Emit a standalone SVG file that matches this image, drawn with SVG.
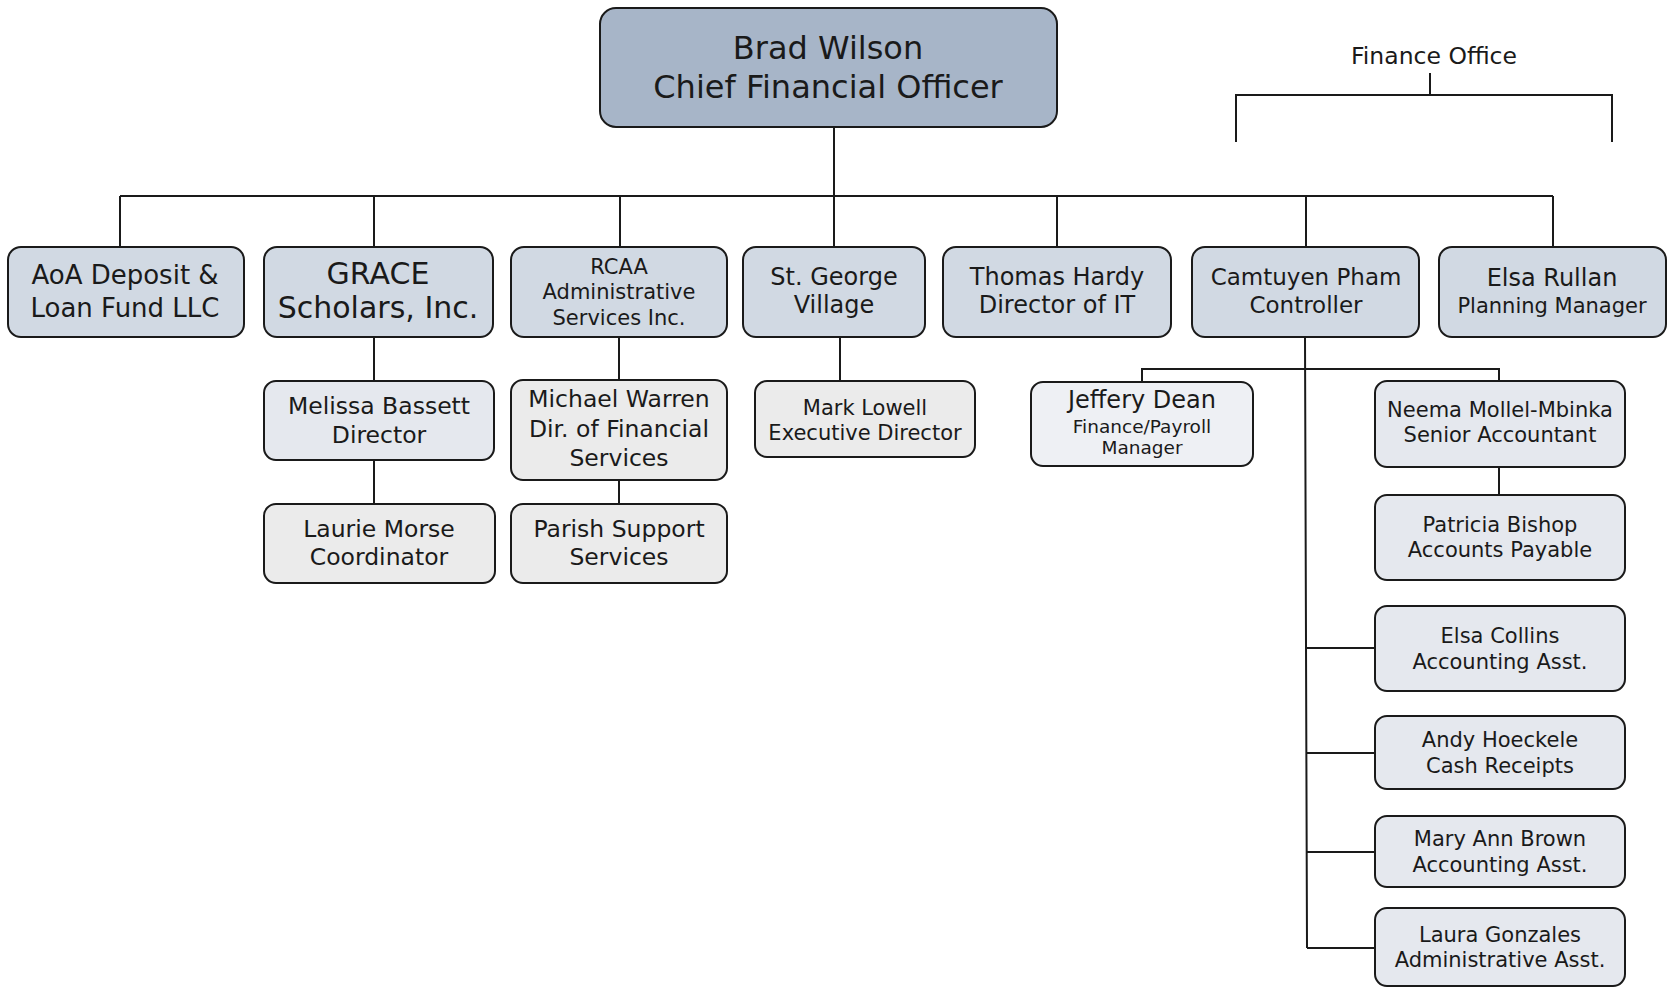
<svg xmlns="http://www.w3.org/2000/svg" width="1669" height="989" viewBox="0 0 1669 989">
<style>
.box{stroke:#1a1a1a;stroke-width:2}
.top{fill:#a7b5c8}
.l1{fill:#d1d9e3}
.bl{fill:#e5e8ee}
.gr{fill:#ebebeb}
.lt{fill:#eef0f4}
.c{fill:none;stroke:#1a1a1a;stroke-width:2}
text{font-family:"DejaVu Sans",Verdana,sans-serif;fill:#1a1a1a;text-anchor:middle}
</style>
<rect width="1669" height="989" fill="#ffffff"/>
<g id="connectors">
<path class="c" d="M834 127V196M120 196H1553M120 196V247M374 196V247M620 196V247M834 196V247M1057 196V247M1306 196V247M1553 196V247"/>
<path class="c" d="M374 337V381M374 460V504M619 337V380M619 480V504M840 337V381"/>
<path class="c" d="M1305 337L1307 948M1142 382V369H1499V381M1499 467V495M1306 648H1375M1306 753H1375M1307 852H1375M1307 948H1375"/>
<path class="c" d="M1236 142V95H1612V142M1430 73V95"/>
</g>
<g id="finance-office"><text x="1434" y="64" font-size="23.5">Finance Office</text></g>
<g id="cfo"><rect class="box top" x="600" y="8" width="457" height="119" rx="16"/>
<text x="828" y="59" font-size="32">Brad Wilson</text><text x="828" y="98" font-size="32">Chief Financial Officer</text></g>
<g id="aoa"><rect class="box l1" x="8" y="247" width="236" height="90" rx="13"/>
<text x="125" y="284" font-size="26">AoA Deposit &amp;</text><text x="125" y="317" font-size="26">Loan Fund LLC</text></g>
<g id="grace"><rect class="box l1" x="264" y="247" width="229" height="90" rx="13"/>
<text x="378" y="284" font-size="30">GRACE</text><text x="378" y="318" font-size="30">Scholars, Inc.</text></g>
<g id="rcaa"><rect class="box l1" x="511" y="247" width="216" height="90" rx="13"/>
<text x="619" y="274" font-size="21">RCAA</text><text x="619" y="299" font-size="21">Administrative</text><text x="619" y="325" font-size="21">Services Inc.</text></g>
<g id="stgeorge"><rect class="box l1" x="743" y="247" width="182" height="90" rx="13"/>
<text x="834" y="285" font-size="24">St. George</text><text x="834" y="313" font-size="24">Village</text></g>
<g id="hardy"><rect class="box l1" x="943" y="247" width="228" height="90" rx="13"/>
<text x="1057" y="285" font-size="24">Thomas Hardy</text><text x="1057" y="313" font-size="24">Director of IT</text></g>
<g id="pham"><rect class="box l1" x="1192" y="247" width="227" height="90" rx="13"/>
<text x="1306" y="285" font-size="23">Camtuyen Pham</text><text x="1306" y="313" font-size="23">Controller</text></g>
<g id="rullan"><rect class="box l1" x="1439" y="247" width="227" height="90" rx="13"/>
<text x="1552" y="286" font-size="24">Elsa Rullan</text><text x="1552" y="313" font-size="21">Planning Manager</text></g>
<g id="bassett"><rect class="box bl" x="264" y="381" width="230" height="79" rx="12"/>
<text x="379" y="414" font-size="23.5">Melissa Bassett</text><text x="379" y="443" font-size="23.5">Director</text></g>
<g id="morse"><rect class="box gr" x="264" y="504" width="231" height="79" rx="12"/>
<text x="379" y="537" font-size="23.5">Laurie Morse</text><text x="379" y="565" font-size="23.5">Coordinator</text></g>
<g id="warren"><rect class="box gr" x="511" y="380" width="216" height="100" rx="12"/>
<text x="619" y="407" font-size="23.5">Michael Warren</text><text x="619" y="437" font-size="23.5">Dir. of Financial</text><text x="619" y="466" font-size="23.5">Services</text></g>
<g id="parish"><rect class="box gr" x="511" y="504" width="216" height="79" rx="12"/>
<text x="619" y="537" font-size="23.5">Parish Support</text><text x="619" y="565" font-size="23.5">Services</text></g>
<g id="lowell"><rect class="box gr" x="755" y="381" width="220" height="76" rx="12"/>
<text x="865" y="415" font-size="21">Mark Lowell</text><text x="865" y="440" font-size="21">Executive Director</text></g>
<g id="dean"><rect class="box lt" x="1031" y="382" width="222" height="84" rx="12"/>
<text x="1142" y="408" font-size="24">Jeffery Dean</text><text x="1142" y="433" font-size="18.5">Finance/Payroll</text><text x="1142" y="454" font-size="18.5">Manager</text></g>
<g id="mollel"><rect class="box bl" x="1375" y="381" width="250" height="86" rx="12"/>
<text x="1500" y="417" font-size="21">Neema Mollel-Mbinka</text><text x="1500" y="442" font-size="21">Senior Accountant</text></g>
<g id="bishop"><rect class="box bl" x="1375" y="495" width="250" height="85" rx="12"/>
<text x="1500" y="532" font-size="21">Patricia Bishop</text><text x="1500" y="557" font-size="21">Accounts Payable</text></g>
<g id="collins"><rect class="box bl" x="1375" y="606" width="250" height="85" rx="12"/>
<text x="1500" y="643" font-size="21">Elsa Collins</text><text x="1500" y="669" font-size="21">Accounting Asst.</text></g>
<g id="hoeckele"><rect class="box bl" x="1375" y="716" width="250" height="73" rx="12"/>
<text x="1500" y="747" font-size="21">Andy Hoeckele</text><text x="1500" y="773" font-size="21">Cash Receipts</text></g>
<g id="brown"><rect class="box bl" x="1375" y="816" width="250" height="71" rx="12"/>
<text x="1500" y="846" font-size="21">Mary Ann Brown</text><text x="1500" y="872" font-size="21">Accounting Asst.</text></g>
<g id="gonzales"><rect class="box bl" x="1375" y="908" width="250" height="78" rx="12"/>
<text x="1500" y="942" font-size="21">Laura Gonzales</text><text x="1500" y="967" font-size="21">Administrative Asst.</text></g>
</svg>
